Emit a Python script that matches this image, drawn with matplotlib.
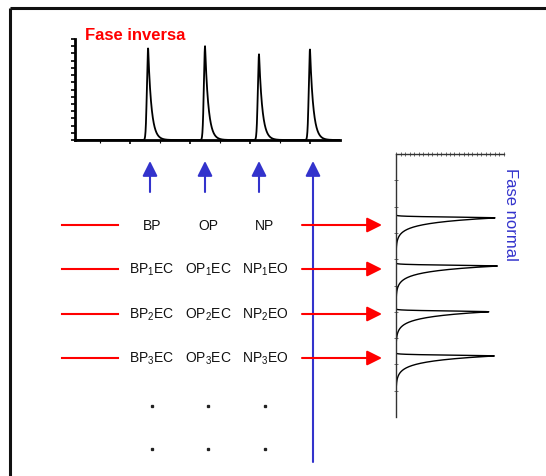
import numpy as np
import matplotlib
matplotlib.use('Agg')
import matplotlib.pyplot as plt

plt.rcParams['font.family'] = ['Liberation Sans', 'DejaVu Sans']
plt.rcParams['mathtext.fontset'] = 'custom'
plt.rcParams['mathtext.rm'] = 'Liberation Sans'
plt.rcParams['mathtext.it'] = 'Liberation Sans'

# reversed phase chromatogram (top): retention and relative height
rp_times = [1.30, 2.25, 3.15, 4.00]
rp_heights = [0.91, 0.93, 0.85, 0.90]

# normal phase chromatogram (right, rotated): retention and relative height
np_times = [2.43, 4.26, 6.00, 7.68]
np_heights = [0.92, 0.94, 0.86, 0.91]

# sample labels per row and column
row_labels = [
    ["BP", "OP", "NP"],
    ["BP$_1$EC", "OP$_1$EC", "NP$_1$EO"],
    ["BP$_2$EC", "OP$_2$EC", "NP$_2$EO"],
    ["BP$_3$EC", "OP$_3$EC", "NP$_3$EO"],
]

RED = '#ff0000'
BLUE = '#3333cc'
W, H = 546, 477


def trace(t, times, heights, sigma, tau):
    y = np.zeros_like(t)
    for t0, h in zip(times, heights):
        d = t - t0
        y += np.where(d < 0, h * np.exp(-0.5 * (d / sigma) ** 2), h * np.exp(-d / tau))
    return y


fig = plt.figure(figsize=(W / 100, H / 100), dpi=100)
ax = fig.add_axes([0, 0, 1, 1])
ax.set_xlim(0, W)
ax.set_ylim(H, 0)
ax.axis('off')

# frame
ax.plot([10, W], [9, 9], color='#111111', lw=2.2, solid_capstyle='butt')
ax.plot([10, 10], [9, H], color='#111111', lw=2.2, solid_capstyle='butt')

# top chromatogram
top = fig.add_axes([75 / W, 1 - 141 / H, (340 - 75) / W, (141 - 40) / H])
t = np.linspace(0.08, 4.5, 2000)
top.plot(t, trace(t, rp_times, rp_heights, 0.02, 0.055), color='black', lw=1.3)
top.set_xlim(0.08, 4.5)
top.set_ylim(0, 1)
for s in ['top', 'right']:
    top.spines[s].set_visible(False)
for s in ['left', 'bottom']:
    top.spines[s].set_linewidth(2)
top.set_xticks([1, 2, 3, 4])
top.set_xticks(np.arange(0.5, 4.5, 0.5), minor=True)
top.set_yticks(np.linspace(0, 1, 15))
top.tick_params(direction='out', length=3, width=1.2, labelbottom=False, labelleft=False)
top.tick_params(which='minor', length=2, width=0.8)
top.patch.set_alpha(0)
ax.text(85, 35, "Fase inversa", color=RED, fontsize=12, fontweight='bold', va='center', ha='left')

# right chromatogram (rotated)
side = fig.add_axes([396 / W, 1 - 418 / H, (504 - 396) / W, (418 - 155) / H])
tt = np.linspace(0, 10, 3000)
side.plot(trace(tt, np_times, np_heights, 0.03, 0.2), tt, color='black', lw=1.0)
side.set_ylim(10, 0)
side.set_xlim(0, 1)
for s in ['bottom', 'right']:
    side.spines[s].set_visible(False)
for s in ['top', 'left']:
    side.spines[s].set_linewidth(1)
    side.spines[s].set_color('#333333')
side.xaxis.tick_top()
side.set_xticks(np.linspace(0, 1, 25))
side.set_yticks([1, 2, 3, 4, 5, 6, 7, 8, 9])
side.tick_params(direction='inout', length=2.5, width=0.6, colors='#555555',
                 labeltop=False, labelleft=False)
side.patch.set_alpha(0)
ax.text(511, 214, "Fase normal", color=BLUE, fontsize=12, rotation=-90, va='center', ha='center')

# blue arrows from the top chromatogram peaks
col_x = [150, 205, 259]
for x in col_x:
    ax.annotate('', xy=(x, 162), xytext=(x, 193),
                arrowprops=dict(arrowstyle='-|>,head_length=0.9,head_width=0.45',
                                color=BLUE, lw=1.5, shrinkA=0, shrinkB=0))
ax.annotate('', xy=(313, 162), xytext=(313, 463),
            arrowprops=dict(arrowstyle='-|>,head_length=0.9,head_width=0.45',
                            color=BLUE, lw=1.5, shrinkA=0, shrinkB=0))

# rows of samples and red arrows
row_y = [226, 270, 315, 359]
text_x = [152, 208, 265]
for y, labels in zip(row_y, row_labels):
    ax.plot([62, 118], [y, y], color=RED, lw=1.5)
    ax.annotate('', xy=(382, y), xytext=(302, y),
                arrowprops=dict(arrowstyle='-|>,head_length=0.9,head_width=0.45',
                                color=RED, lw=1.5, shrinkA=0, shrinkB=0))
    for x, lab in zip(text_x, labels):
        ax.text(x, y, lab, fontsize=10, ha='center', va='center', color='#111111')

# continuation dots
for y in [407, 450]:
    ax.plot(text_x, [y] * 3, 's', color='#222222', ms=1.4)

fig.savefig('out.png', dpi=100)
